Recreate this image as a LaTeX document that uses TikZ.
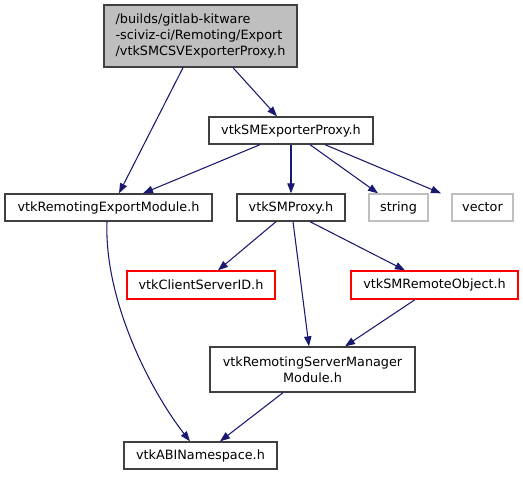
\documentclass[tikz,border=0pt]{standalone}
\usepackage{fontspec}
\setmainfont{DejaVu Sans}
\usetikzlibrary{arrows.meta}
\definecolor{edgeblue}{HTML}{191970}
\definecolor{boxgray}{HTML}{BFBFBF}
\definecolor{boxline}{HTML}{404040}
\definecolor{boxred}{HTML}{FF0000}
\tikzset{
  box/.style={draw=boxline, line width=1pt, rectangle, inner sep=0pt, font=\fontsize{9.6}{12}\selectfont, text=black},
  graybox/.style={box, draw=boxgray},
  redbox/.style={box, draw=boxred},
  edge/.style={draw=edgeblue, line width=0.8pt, -{Triangle[length=7.5pt,width=5.5pt]}},
}
\begin{document}
\begin{tikzpicture}[x=0.75pt,y=-0.75pt]
\useasboundingbox (0,0) rectangle (523,476);
\node[box, fill=boxgray, align=left, minimum width=193*0.75pt, minimum height=62*0.75pt] (top) at (200.5,36) {/builds/gitlab-kitware\\-sciviz-ci/Remoting/Export\\/vtkSMCSVExporterProxy.h};
\node[box, minimum width=164*0.75pt, minimum height=27*0.75pt] (exp) at (291,130.5) {vtkSMExporterProxy.h};
\node[box, minimum width=207*0.75pt, minimum height=27*0.75pt] (rem) at (108.5,207.5) {vtkRemotingExportModule.h};
\node[box, minimum width=108*0.75pt, minimum height=27*0.75pt] (smp) at (291,207.5) {vtkSMProxy.h};
\node[graybox, minimum width=59*0.75pt, minimum height=27*0.75pt] (str) at (398.5,207.5) {string};
\node[graybox, minimum width=61*0.75pt, minimum height=27*0.75pt] (vec) at (482.5,207.5) {vector};
\node[redbox, minimum width=148*0.75pt, minimum height=28*0.75pt] (csid) at (201,285) {vtkClientServerID.h};
\node[redbox, minimum width=167*0.75pt, minimum height=28*0.75pt] (smro) at (434.5,285) {vtkSMRemoteObject.h};
\node[box, align=center, minimum width=205*0.75pt, minimum height=45*0.75pt] (rsmm) at (312.5,369.5) {vtkRemotingServerManager\\Module.h};
\node[box, minimum width=153*0.75pt, minimum height=27*0.75pt] (abi) at (200.5,455.5) {vtkABINamespace.h};

\draw[edge] ([xshift=-17.5*0.75pt]top.south) -- ([xshift=10.5*0.75pt]rem.north);
\draw[edge] ([xshift=32.5*0.75pt]top.south) -- ([xshift=-14*0.75pt]exp.north);
\draw[edge] ([xshift=-31*0.75pt]exp.south) -- ([xshift=34.5*0.75pt]rem.north);
\draw[edge] (exp.south) -- (smp.north);
\draw[edge] ([xshift=19*0.75pt]exp.south) -- ([xshift=-20.5*0.75pt]str.north);
\draw[edge] ([xshift=34*0.75pt]exp.south) -- ([xshift=-41.5*0.75pt]vec.north);
\draw[edge] ([xshift=-15*0.75pt]smp.south) -- ([xshift=17*0.75pt]csid.north);
\draw[edge] ([xshift=2*0.75pt]smp.south) -- ([xshift=-3.5*0.75pt]rsmm.north);
\draw[edge] ([xshift=19*0.75pt]smp.south) -- ([xshift=-29.5*0.75pt]smro.north);
\draw[edge] ([xshift=-19.5*0.75pt]smro.south) -- ([xshift=32.5*0.75pt]rsmm.north);
\draw[edge] ([xshift=-29.5*0.75pt]rsmm.south) -- ([xshift=19.5*0.75pt]abi.north);
\draw[edge] ([xshift=-1.5*0.75pt]rem.south) .. controls (104,300) and (150,390) .. ([xshift=-10.5*0.75pt]abi.north);
\end{tikzpicture}
\end{document}
